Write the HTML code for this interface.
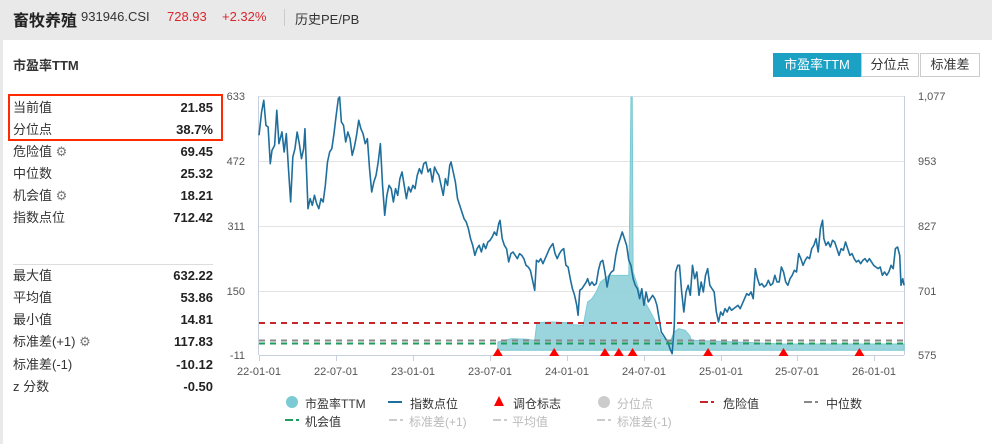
<!DOCTYPE html><html><head><meta charset="utf-8"><style>
body{margin:0;width:992px;height:444px;background:#e9e9e9;font-family:"Liberation Sans","Noto Sans CJK SC",sans-serif;position:relative;overflow:hidden;color:#333}
.a{position:absolute;white-space:nowrap}
.card{position:absolute;left:3px;top:40px;width:989px;height:404px;background:#fff}
.r{position:absolute;left:13px;width:200px;font-size:13px;height:18px;line-height:18px}
.r b{position:absolute;right:0;top:0;font-weight:bold;color:#222}
.btn{position:absolute;top:53px;height:22px;line-height:22px;font-size:13px;text-align:center;border:1px solid #ccc;background:#fff;color:#333}
.lg{position:absolute;font-size:12px;color:#333}
.lg.g{color:#bbb}
</style></head><body>
<div class="a" style="left:13px;top:7px;font-size:16px;font-weight:bold;color:#222">畜牧养殖</div>
<div class="a" style="left:81px;top:9px;font-size:13px;color:#333">931946.CSI</div>
<div class="a" style="left:167px;top:9px;font-size:13px;color:#d9262c">728.93</div>
<div class="a" style="left:222px;top:9px;font-size:13px;color:#d9262c">+2.32%</div>
<div class="a" style="left:284px;top:9px;width:1px;height:17px;background:#ccc"></div>
<div class="a" style="left:295px;top:9px;font-size:13px;color:#333">历史PE/PB</div>
<div class="card"></div>
<div class="a" style="left:13px;top:55px;font-size:13px;font-weight:bold;color:#333">市盈率TTM</div>
<div class="btn" style="left:773px;width:86px;background:#1aa1c4;border-color:#1aa1c4;color:#fff">市盈率TTM</div>
<div class="btn" style="left:861px;width:56px">分位点</div>
<div class="btn" style="left:920px;width:58px">标准差</div>
<div class="a" style="left:8px;top:94px;width:211px;height:43px;border:2px solid #ff2a00"></div>
<div class="r" style="top:99px">当前值<b>21.85</b></div>
<div class="r" style="top:121px">分位点<b>38.7%</b></div>
<div class="r" style="top:143px">危险值 <span style="color:#777">⚙</span><b>69.45</b></div>
<div class="r" style="top:165px">中位数<b>25.32</b></div>
<div class="r" style="top:187px">机会值 <span style="color:#777">⚙</span><b>18.21</b></div>
<div class="r" style="top:209px">指数点位<b>712.42</b></div>
<div class="a" style="left:13px;top:264px;width:200px;height:1px;background:#ddd"></div>
<div class="r" style="top:267px">最大值<b>632.22</b></div>
<div class="r" style="top:289px">平均值<b>53.86</b></div>
<div class="r" style="top:311px">最小值<b>14.81</b></div>
<div class="r" style="top:333px">标准差(+1) <span style="color:#777">⚙</span><b>117.83</b></div>
<div class="r" style="top:356px">标准差(-1)<b>-10.12</b></div>
<div class="r" style="top:378px">z 分数<b>-0.50</b></div>
<svg class="a" style="left:0;top:0" width="992" height="444" font-family="Liberation Sans,sans-serif" font-size="11" fill="#555">
<g stroke="#e3e3e3" stroke-width="1"><line x1="259" y1="96.5" x2="904" y2="96.5"/><line x1="259" y1="161.5" x2="904" y2="161.5"/><line x1="259" y1="226.5" x2="904" y2="226.5"/><line x1="259" y1="291.5" x2="904" y2="291.5"/></g>
<line x1="259" y1="355.5" x2="904" y2="355.5" stroke="#c8d0e0"/>
<line x1="258.5" y1="96" x2="258.5" y2="355" stroke="#c8d0e0"/><line x1="904.5" y1="96" x2="904.5" y2="355" stroke="#c8d0e0"/>
<g stroke="#c8d0e0"><line x1="259.5" y1="355" x2="259.5" y2="361"/><line x1="336.5" y1="355" x2="336.5" y2="361"/><line x1="413.5" y1="355" x2="413.5" y2="361"/><line x1="490.5" y1="355" x2="490.5" y2="361"/><line x1="567.5" y1="355" x2="567.5" y2="361"/><line x1="644.5" y1="355" x2="644.5" y2="361"/><line x1="721.5" y1="355" x2="721.5" y2="361"/><line x1="797.5" y1="355" x2="797.5" y2="361"/><line x1="874.5" y1="355" x2="874.5" y2="361"/></g>
<g text-anchor="end"><text x="245" y="100">633</text><text x="245" y="165">472</text><text x="245" y="230">311</text><text x="245" y="295">150</text><text x="245" y="359">-11</text></g>
<g><text x="918" y="100">1,077</text><text x="918" y="165">953</text><text x="918" y="230">827</text><text x="918" y="295">701</text><text x="918" y="359">575</text></g>
<g text-anchor="middle"><text x="259" y="375">22-01-01</text><text x="336" y="375">22-07-01</text><text x="413" y="375">23-01-01</text><text x="490" y="375">23-07-01</text><text x="567" y="375">24-01-01</text><text x="644" y="375">24-07-01</text><text x="721" y="375">25-01-01</text><text x="797" y="375">25-07-01</text><text x="874" y="375">26-01-01</text></g>
<g transform="translate(259,96) scale(0.4335,0.3333) translate(-42,-32)">
<path fill="#8fd0d9" fill-opacity="0.9" stroke="#7ccad4" stroke-width="1" vector-effect="non-scaling-stroke" d="M593,795 L593,770 L625,760 L660,762 L678,765 L683,712 L720,710 L750,712 L765,718 L790,720 L800,650 L810,640 L820,620 L830,590 L850,570 L895,570 L898,300 L900,35 L903,35 L905,560 L920,620 L945,680 L955,705 L965,740 L975,760 L985,770 L990,770 L1000,740 L1010,730 L1025,735 L1035,750 L1040,765 L1100,768 L1180,772 L1250,776 L1530,776 L1530,795 Z"/>
<path fill="none" stroke="#1f6f9c" stroke-width="1.6" vector-effect="non-scaling-stroke" stroke-linejoin="round" d="M42,150 L48,80 L53,45 L58,120 L63,125 L68,235 L72,195 L78,180 L83,75 L88,175 L95,140 L100,200 L105,145 L110,250 L115,350 L120,215 L125,190 L130,140 L135,175 L140,220 L145,190 L148,130 L152,270 L155,370 L160,340 L165,360 L170,330 L175,355 L180,370 L185,340 L190,350 L195,300 L200,230 L205,200 L210,190 L215,145 L220,90 L225,40 L228,35 L232,110 L237,120 L242,170 L247,140 L252,160 L257,210 L262,185 L267,150 L272,105 L277,130 L282,145 L287,175 L292,160 L297,250 L302,320 L307,290 L312,270 L317,230 L322,175 L327,300 L332,390 L337,330 L342,300 L347,310 L352,350 L357,310 L362,330 L367,280 L372,260 L377,300 L382,340 L387,305 L392,320 L397,300 L402,310 L407,270 L412,250 L417,265 L422,235 L427,230 L432,260 L437,250 L442,290 L447,245 L452,260 L457,270 L462,300 L467,330 L472,280 L477,300 L482,240 L485,230 L490,260 L495,290 L500,340 L505,360 L510,380 L515,400 L520,410 L525,430 L530,460 L535,480 L540,510 L545,490 L550,480 L555,500 L560,475 L565,490 L570,470 L575,465 L580,455 L585,440 L590,450 L595,415 L598,405 L603,460 L608,480 L613,490 L618,530 L623,505 L628,500 L633,510 L638,520 L643,505 L648,510 L653,520 L658,540 L663,545 L668,555 L673,585 L678,615 L682,525 L687,530 L692,520 L697,535 L702,520 L707,505 L712,490 L717,480 L720,475 L725,505 L730,520 L735,505 L740,495 L745,490 L750,540 L755,545 L760,580 L765,610 L770,630 L775,660 L778,690 L782,615 L787,610 L792,600 L797,590 L800,580 L805,600 L810,590 L815,600 L820,595 L825,555 L830,530 L835,525 L840,560 L845,605 L850,570 L855,560 L860,555 L865,510 L870,480 L875,460 L880,440 L885,460 L890,480 L895,525 L900,540 L905,580 L910,600 L915,610 L920,640 L925,610 L930,660 L935,620 L940,650 L945,640 L950,630 L955,640 L960,660 L965,700 L970,740 L975,750 L980,760 L985,770 L990,790 L995,805 L1000,720 L1003,560 L1008,540 L1012,540 L1017,620 L1022,680 L1027,620 L1032,600 L1037,630 L1042,540 L1047,580 L1052,560 L1057,630 L1062,590 L1067,620 L1072,570 L1077,550 L1082,600 L1087,610 L1092,620 L1097,680 L1102,710 L1107,680 L1112,690 L1117,670 L1122,680 L1127,665 L1132,675 L1137,670 L1142,665 L1147,660 L1152,670 L1157,655 L1162,640 L1167,625 L1172,630 L1177,620 L1182,640 L1187,550 L1192,580 L1197,600 L1202,595 L1207,605 L1212,600 L1217,585 L1222,600 L1227,595 L1232,570 L1237,590 L1242,590 L1247,545 L1252,560 L1257,590 L1262,600 L1267,580 L1272,570 L1277,555 L1282,560 L1287,505 L1292,520 L1297,540 L1302,525 L1307,515 L1312,520 L1317,490 L1322,480 L1327,460 L1332,500 L1337,430 L1342,405 L1345,460 L1350,480 L1355,470 L1360,485 L1365,465 L1370,470 L1375,490 L1380,510 L1385,490 L1390,495 L1395,470 L1400,490 L1405,510 L1410,505 L1415,520 L1420,530 L1425,525 L1430,535 L1435,525 L1440,520 L1445,530 L1450,520 L1455,530 L1460,540 L1465,545 L1470,550 L1475,545 L1480,570 L1485,560 L1490,570 L1495,560 L1500,540 L1505,550 L1510,490 L1515,485 L1520,510 L1523,600 L1527,580 L1530,600"/>
</g>
<line x1="259" y1="323" x2="904" y2="323" stroke="#c8252b" stroke-width="2" stroke-dasharray="6,5"/>
<line x1="259" y1="340.5" x2="904" y2="340.5" stroke="#888" stroke-width="2" stroke-dasharray="6,5"/>
<line x1="259" y1="343.5" x2="904" y2="343.5" stroke="#1e9e5a" stroke-width="2" stroke-dasharray="6,5"/>
<g fill="#f00"><path d="M497.8,348 l5,8 h-10z"/><path d="M554.2,348 l5,8 h-10z"/><path d="M604.9,348 l5,8 h-10z"/><path d="M618.8,348 l5,8 h-10z"/><path d="M632.6,348 l5,8 h-10z"/><path d="M708.1,348 l5,8 h-10z"/><path d="M783.5,348 l5,8 h-10z"/><path d="M859.4,348 l5,8 h-10z"/></g>
<ellipse cx="292" cy="402" rx="6" ry="6" fill="#7ccad4"/>
<line x1="388" y1="402" x2="402" y2="402" stroke="#1f6f9c" stroke-width="2"/>
<path d="M499,396 l5,10 h-10z" fill="#f00"/>
<circle cx="604" cy="402" r="6" fill="#ccc"/>
<path d="M700,402 h8 M711,402 h3" stroke="#c8252b" stroke-width="2"/>
<path d="M804,402 h8 M815,402 h3" stroke="#888" stroke-width="2"/>
<path d="M285,420 h8 M296,420 h3" stroke="#1e9e5a" stroke-width="2"/>
<path d="M389,420 h8 M400,420 h3" stroke="#ccc" stroke-width="2"/>
<path d="M493,420 h8 M504,420 h3" stroke="#ccc" stroke-width="2"/>
<path d="M597,420 h8 M608,420 h3" stroke="#ccc" stroke-width="2"/>
</svg>
<div class="lg" style="left:305px;top:395px">市盈率TTM</div>
<div class="lg" style="left:410px;top:395px">指数点位</div>
<div class="lg" style="left:513px;top:395px">调仓标志</div>
<div class="lg g" style="left:617px;top:395px">分位点</div>
<div class="lg" style="left:723px;top:395px">危险值</div>
<div class="lg" style="left:826px;top:395px">中位数</div>
<div class="lg" style="left:305px;top:413px">机会值</div>
<div class="lg g" style="left:409px;top:413px">标准差(+1)</div>
<div class="lg g" style="left:512px;top:413px">平均值</div>
<div class="lg g" style="left:617px;top:413px">标准差(-1)</div>
</body></html>
